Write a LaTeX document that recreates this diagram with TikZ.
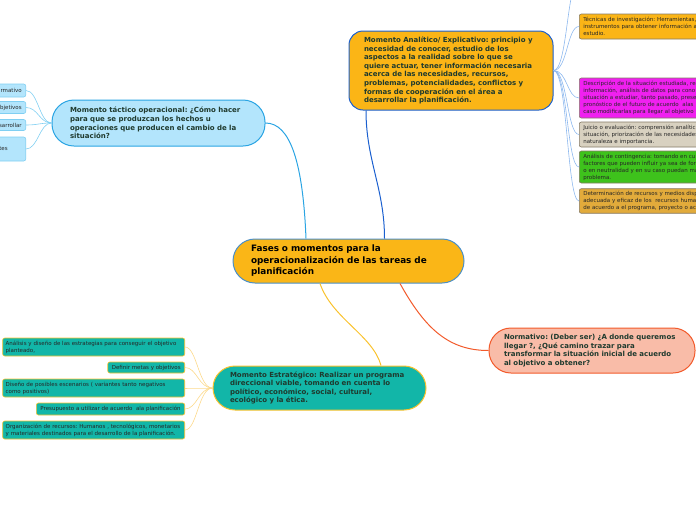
\documentclass[tikz,border=0pt]{standalone}
\usepackage{fontspec}
\setmainfont{DejaVu Sans}
\frenchspacing
\definecolor{hubfill}{HTML}{FAB617}
\definecolor{hubline}{HTML}{4A8FC8}
\definecolor{anafill}{HTML}{FBB516}
\definecolor{analine}{HTML}{1A5FCF}
\definecolor{tacfill}{HTML}{B3E5FC}
\definecolor{tacline}{HTML}{2AA4E3}
\definecolor{tacleaf}{HTML}{80CFF2}
\definecolor{normfill}{HTML}{F9BCA8}
\definecolor{normline}{HTML}{F25A2B}
\definecolor{stratfill}{HTML}{12B6A8}
\definecolor{stratline}{HTML}{F9C22D}
\definecolor{strattwig}{HTML}{FCD98A}
\definecolor{anatwig}{HTML}{8DB8EE}
\definecolor{leafline}{HTML}{857A66}
\definecolor{topictext}{HTML}{1F3A2E}
\definecolor{leaftext}{HTML}{262626}
\begin{document}
\begin{tikzpicture}[x=1pt,y=-1pt,
    topic/.style={draw, line width=1pt, rounded corners=20pt, align=left,
      font=\bfseries\fontsize{7}{8.6}\selectfont, text=topictext, inner ysep=3pt},
    leaf/.style={draw, line width=0.6pt, rounded corners=2pt, align=left,
      font=\fontsize{5.5}{7}\selectfont, text=leaftext, inner xsep=4pt, inner ysep=2.5pt},
    link/.style={line width=1pt},
    twig/.style={line width=0.6pt}]
    \useasboundingbox (0,0) rectangle (696,520);
    \clip (0,0) rectangle (696,520);

    % Central topic
    \node[topic, fill=hubfill, draw=hubline, text=black, text width=195pt, inner xsep=18pt,
      minimum height=44pt, rounded corners=22pt, font=\bfseries\fontsize{8.85}{11.5}\selectfont]
      (hub) at (348.5,261) {Fases o momentos para la\\operacionalización de las tareas de\\planificación};

    % Main topics
    \node[topic, fill=anafill, draw=analine, text width=174pt, inner xsep=15pt,
      minimum height=79pt, rounded corners=14pt] (anal) at (451,70.5)
      {Momento Analítico/ Explicativo: principio y\\necesidad de conocer, estudio de los\\aspectos a la realidad sobre lo que se\\quiere actuar, tener información necesaria\\acerca de las necesidades, recursos,\\problemas, potencialidades, conflictos y\\formas de cooperación en el área a\\desarrollar la planificación.};
    \node[topic, fill=tacfill, draw=tacline, text width=177pt, inner xsep=18pt,
      minimum height=46pt, rounded corners=22pt] (tact) at (158.5,123)
      {Momento táctico operacional: ¿Cómo hacer\\para que se produzcan los hechos u\\operaciones que producen el cambio de la\\situación?};
    \node[topic, fill=normfill, draw=normline, text width=176pt, inner xsep=15pt,
      minimum height=45pt, rounded corners=22pt] (norm) at (592,350.5)
      {Normativo: (Deber ser) ¿A donde queremos\\llegar ?, ¿Qué camino trazar para\\transformar la situación inicial de acuerdo\\al objetivo a obtener?};
    \node[topic, fill=stratfill, draw=stratline, text width=179pt, inner xsep=17pt,
      minimum height=44pt, rounded corners=22pt] (estr) at (319.5,388)
      {Momento Estratégico: Realizar un programa\\direccional viable, tomando en cuenta lo\\político, económico, social, cultural,\\ecológico y la ética.};

    \draw[link, analine] ([xshift=36pt]hub.north) .. controls +(0,-50) and +(0,50) .. ([xshift=-85pt]anal.south);
    \draw[link, tacline] ([xshift=-42.5pt]hub.north) .. controls +(-3,-75) and +(25,0) .. (tact.east);
    \draw[link, stratline] ([xshift=-28.5pt]hub.south) .. controls +(12,35) and +(-8,-30) .. ([xshift=61.5pt]estr.north);
    \draw[link, normline] ([xshift=51.5pt]hub.south) .. controls +(25,45) and +(-40,0) .. (norm.west);

    % Analitico leaves
    \node[leaf, fill=anafill, draw=leafline, text width=200pt, minimum height=25pt, anchor=west]
      (tecn) at (579,26.5) {Técnicas de investigación: Herramientas, e\\instrumentos para obtener información a\\estudio.};
    \node[leaf, fill={rgb,255:red,240;green,32;blue,240}, draw=leafline, text width=200pt, minimum height=40pt, anchor=west]
      (desc) at (579,98) {Descripción de la situación estudiada, re\\información, análisis de datos para cono\\situación a estudiar, tanto pasado, prese\\pronóstico de el futuro de acuerdo\ \ alas\\caso modificarlas para llegar al objetivo};
    \node[leaf, fill={rgb,255:red,216;green,209;blue,192}, draw=leafline, text width=200pt, minimum height=25pt, anchor=west]
      (juic) at (579,134.5) {Juicio o evaluación: comprensión analític\\situación, priorización de las necesidades\\naturaleza e importancia.};
    \node[leaf, fill={rgb,255:red,62;green,194;blue,28}, draw=leafline, text width=200pt, minimum height=32pt, anchor=west]
      (cont) at (579,167) {Análisis de contingencia: tomando en cu\\factores que pueden influir ya sea de for\\o en neutralidad y en su caso puedan ma\\problema.};
    \node[leaf, fill={rgb,255:red,226;green,171;blue,59}, draw=leafline, text width=200pt, minimum height=24pt, anchor=west]
      (dete) at (579,201) {Determinación de recursos y medios disp\\adecuada y eficaz de los\ \ recursos huma\\de acuerdo a el programa, proyecto o ac};
    \coordinate (above) at (579,-20);
    \foreach \leafname in {above,tecn,desc,juic,cont,dete}
      \draw[twig, anatwig] (anal.east) .. controls +(14,0) and +(-12,0) .. (\leafname.west);

    % Tactico leaves
    \node[leaf, fill=tacfill, draw=tacleaf, text width=60pt, align=right, minimum height=13pt, anchor=east]
      (tac1) at (26,90.5) {rmativo};
    \node[leaf, fill=tacfill, draw=tacleaf, text width=60pt, align=right, minimum height=12pt, anchor=east]
      (tac2) at (26,107.5) {bjetivos};
    \node[leaf, fill=tacfill, draw=tacleaf, text width=60pt, align=right, minimum height=11pt, anchor=east]
      (tac3) at (26,125) {sarrollar};
    \node[leaf, fill=tacfill, draw=tacleaf, text width=60pt, align=right, minimum height=24pt, anchor=east]
      (tac4) at (26,149) {tes\rule{14pt}{0pt}};
    \foreach \leafname in {tac1,tac2,tac3,tac4}
      \draw[twig, tacleaf] (tact.west) .. controls +(-12,0) and +(12,0) .. (\leafname.east);

    % Estrategico leaves
    \node[leaf, fill=stratfill, draw=stratline, text width=176pt, inner xsep=3pt, minimum height=18pt, anchor=east]
      (str1) at (185,347) {Análisis y diseño de las estrategias para conseguir el objetivo\\planteado,};
    \node[leaf, fill=stratfill, draw=stratline, minimum height=11pt, anchor=east]
      (str2) at (185,367.5) {Definir metas y objetivos};
    \node[leaf, fill=stratfill, draw=stratline, text width=176pt, inner xsep=3pt, minimum height=18pt, anchor=east]
      (str3) at (185,388) {Diseño de posibles escenarios ( variantes tanto negativos\\como positivos)};
    \node[leaf, fill=stratfill, draw=stratline, minimum height=12pt, anchor=east]
      (str4) at (185,409) {Presupuesto a utilizar de acuerdo\ \ ala planificación};
    \node[leaf, fill=stratfill, draw=stratline, text width=176pt, inner xsep=3pt, minimum height=18pt, anchor=east]
      (str5) at (185,430) {Organización de recursos: Humanos , tecnológicos, monetarios\\y materiales destinados para el desarrollo de la planificación.};
    \foreach \leafname in {str1,str2,str3,str4,str5}
      \draw[twig, strattwig] (estr.west) .. controls +(-14,0) and +(12,0) .. (\leafname.east);
\end{tikzpicture}
\end{document}
